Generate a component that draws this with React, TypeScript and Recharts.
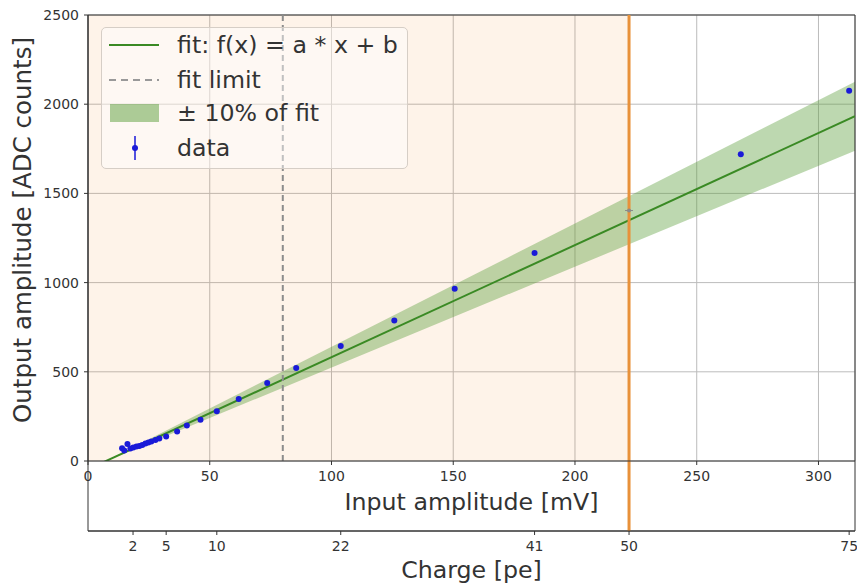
import React from 'react';
import {
  ComposedChart,
  XAxis,
  YAxis,
  CartesianGrid,
  Line,
  Area,
  Scatter,
  ReferenceArea,
  ReferenceLine,
  Legend,
} from 'recharts';

// Measured linearity points: input amplitude [mV] vs output amplitude [ADC counts]
const inputMv = [
  14.0, 14.9, 16.2, 17.4, 18.6, 19.9, 21.1, 22.3, 23.6, 24.8, 26.0, 27.7, 29.3,
  32.1, 36.6, 40.6, 46.2, 52.9, 61.9, 73.6, 85.5, 103.8, 125.8, 150.6, 183.4,
  268.1, 312.6,
];
const outputAdc = [
  72, 59, 95, 70, 76, 81, 84, 90, 98, 104, 109, 118, 126,
  137, 166, 199, 231, 279, 347, 437, 521, 644, 787, 966, 1166,
  1720, 2075,
];

// Point sitting on the 50 pe boundary (drawn grey)
const boundaryMv = [222.2];
const boundaryAdc = [1404];

// Linear fit f(x) = a * x + b and its +/- 10 % band
const FIT_A = 6.284;
const FIT_B = -46.5;
const fitXs = [0, 315];

// Axis ticks
const mvTicks = [0, 50, 100, 150, 200, 250, 300];
const adcTicks = [0, 500, 1000, 1500, 2000, 2500];
const chargeTickMv = [18.5, 32.1, 52.9, 103.8, 183.4, 222.2, 312.6];
const chargeTickLabels = ['2', '5', '10', '22', '41', '50', '75'];

const FIT_LIMIT_MV = 80;
const PE50_MV = 222.2;
const X_MAX = 315;
const Y_MAX = 2500;
const LOWER_PANEL_Y = -392.4;

const legendLabels = ['fit: f(x) = a * x + b', 'fit limit', '± 10% of fit', 'data'];

const FONT = "'DejaVu Sans', sans-serif";
const TEXT = '#333';
const LABEL_SIZE = 23.7;
const FIT_GREEN = '#3a8a24';
const BAND_GREEN = '#5a9e3a';
const DOT_BLUE = '#1a1ad8';
const ORANGE = '#e8913a';

const points = inputMv.map((x, i) => ({ x, y: outputAdc[i] }));
const boundaryPoints = boundaryMv.map((x, i) => ({ x, y: boundaryAdc[i] }));
const fitRows = fitXs.map((x) => {
  const f = FIT_A * x + FIT_B;
  return { x, fit: f, band: [0.9 * f, 1.1 * f] };
});

const chargeLabelOf = (v: number) => {
  const i = chargeTickMv.indexOf(v);
  return i >= 0 ? chargeTickLabels[i] : '';
};

function LegendBox() {
  const rowY = [18, 53, 86, 121];
  return (
    <div
      style={{
        width: 307,
        height: 142,
        boxSizing: 'border-box',
        border: '1px solid #d6cec6',
        borderRadius: 5,
        background: 'rgba(255,255,255,0.45)',
        position: 'relative',
        fontFamily: FONT,
      }}
    >
      <svg width={307} height={142} style={{ position: 'absolute', left: -1, top: -1 }}>
        <line x1={8} x2={58} y1={rowY[0]} y2={rowY[0]} stroke={FIT_GREEN} strokeWidth={2} />
        <line x1={8} x2={58} y1={rowY[1]} y2={rowY[1]} stroke="#999" strokeWidth={2} strokeDasharray="7 5" />
        <rect x={9} y={rowY[2] - 9} width={49} height={18} fill={BAND_GREEN} fillOpacity={0.5} />
        <line x1={34} x2={34} y1={rowY[3] - 12} y2={rowY[3] + 12} stroke={DOT_BLUE} strokeWidth={1.5} />
        <circle cx={34} cy={rowY[3]} r={3} fill={DOT_BLUE} />
        {legendLabels.map((t, i) => (
          <text
            key={t}
            x={76}
            y={rowY[i]}
            dominantBaseline="central"
            fontSize={LABEL_SIZE}
            fill={TEXT}
            fontFamily={FONT}
          >
            {t}
          </text>
        ))}
      </svg>
    </div>
  );
}

export default function App() {
  return (
    <div style={{ position: 'absolute', left: 0, top: 0, background: '#fff' }}>
      <ComposedChart
        width={857}
        height={584}
        data={fitRows}
        margin={{ top: 15, right: 2, bottom: 0, left: 0 }}
      >
        <ReferenceArea
          x1={0}
          x2={PE50_MV}
          y1={0}
          y2={Y_MAX}
          fill="#f5892a"
          fillOpacity={0.1}
          stroke="none"
          ifOverflow="hidden"
        />
        <CartesianGrid stroke="#bcbcbc" strokeWidth={1} />
        <XAxis
          dataKey="x"
          type="number"
          domain={[0, X_MAX]}
          ticks={mvTicks}
          allowDataOverflow
          height={70}
          tickSize={4}
          tickMargin={6}
          stroke={TEXT}
          tick={{ fill: TEXT, fontSize: 14, fontFamily: FONT }}
          label={({ viewBox }: any) => (
            <text
              x={viewBox.x + viewBox.width / 2}
              y={viewBox.y + 49}
              textAnchor="middle"
              fontSize={LABEL_SIZE}
              fill={TEXT}
              fontFamily={FONT}
            >
              Input amplitude [mV]
            </text>
          )}
        />
        <XAxis
          xAxisId="pe"
          dataKey="x"
          type="number"
          domain={[0, X_MAX]}
          ticks={chargeTickMv}
          tickFormatter={chargeLabelOf}
          allowDataOverflow
          height={53}
          tickSize={4}
          tickMargin={6}
          stroke={TEXT}
          tick={{ fill: TEXT, fontSize: 14, fontFamily: FONT }}
          label={({ viewBox }: any) => (
            <text
              x={viewBox.x + viewBox.width / 2}
              y={viewBox.y + 47}
              textAnchor="middle"
              fontSize={LABEL_SIZE}
              fill={TEXT}
              fontFamily={FONT}
            >
              Charge [pe]
            </text>
          )}
        />
        <YAxis
          type="number"
          domain={[0, Y_MAX]}
          ticks={adcTicks}
          allowDataOverflow
          width={88}
          tickSize={4}
          tickMargin={5}
          stroke={TEXT}
          tick={{ fill: TEXT, fontSize: 14, fontFamily: FONT }}
          label={({ viewBox }: any) => {
            const cx = viewBox.x + 31;
            const cy = viewBox.y + viewBox.height / 2 - 8;
            return (
              <text
                x={cx}
                y={cy}
                transform={`rotate(-90 ${cx} ${cy})`}
                textAnchor="middle"
                fontSize={24.5}
                fill={TEXT}
                fontFamily={FONT}
              >
                Output amplitude [ADC counts]
              </text>
            );
          }}
        />
        <Area
          dataKey="band"
          type="linear"
          stroke="none"
          fill={BAND_GREEN}
          fillOpacity={0.4}
          isAnimationActive={false}
          legendType="none"
        />
        <Line
          dataKey="fit"
          type="linear"
          stroke={FIT_GREEN}
          strokeWidth={2}
          dot={false}
          isAnimationActive={false}
          legendType="none"
        />
        <ReferenceLine
          x={FIT_LIMIT_MV}
          stroke="#8c8c8c"
          strokeWidth={2}
          strokeDasharray="6 4"
        />
        <Scatter
          data={points}
          dataKey="y"
          fill={DOT_BLUE}
          shape={(p: any) => <circle cx={p.cx} cy={p.cy} r={3} fill={DOT_BLUE} />}
          isAnimationActive={false}
          legendType="none"
        />
        <ReferenceLine
          segment={[
            { x: PE50_MV, y: LOWER_PANEL_Y },
            { x: PE50_MV, y: Y_MAX },
          ]}
          stroke={ORANGE}
          strokeWidth={3}
          ifOverflow="visible"
        />
        <Scatter
          data={boundaryPoints}
          dataKey="y"
          fill="#8a8a8a"
          shape={(p: any) => (
            <g>
              <line x1={p.cx - 4} x2={p.cx + 4} y1={p.cy} y2={p.cy} stroke="#8a8a8a" strokeWidth={1} />
              <circle cx={p.cx} cy={p.cy} r={2} fill="#8a8a8a" />
            </g>
          )}
          isAnimationActive={false}
          legendType="none"
        />
        <ReferenceArea
          x1={0}
          x2={X_MAX}
          y1={LOWER_PANEL_Y}
          y2={Y_MAX}
          fill="none"
          stroke={TEXT}
          strokeWidth={1}
          ifOverflow="visible"
        />
        <Legend
          layout="vertical"
          align="center"
          verticalAlign="middle"
          content={() => <LegendBox />}
          wrapperStyle={{ left: 101, top: 27, width: 307, height: 142 }}
        />
      </ComposedChart>
    </div>
  );
}
